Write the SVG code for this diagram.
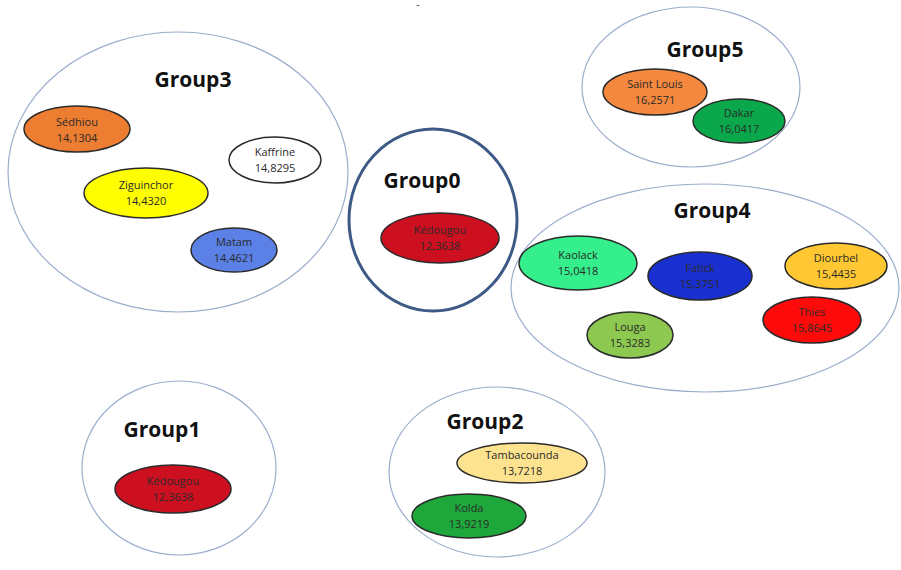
<svg xmlns="http://www.w3.org/2000/svg" width="901" height="570" viewBox="0 0 901 570">
<style>
.grp{fill:none;stroke:#9aaecb;stroke-width:1.2}
.g0{fill:none;stroke:#3d5a86;stroke-width:3}
.gl{font-family:"Open Sans","Liberation Sans",sans-serif;font-weight:bold;font-size:21px;fill:#111;text-anchor:middle}
.nd{stroke:#2a2a2a;stroke-width:1.5}
.nt{font-family:"Open Sans","Liberation Sans",sans-serif;font-size:11px;fill:#2a2a2a;text-anchor:middle}
</style>
<rect width="901" height="570" fill="#fff"/>
<text x="418" y="8" font-family="Liberation Sans,sans-serif" font-size="10" fill="#444" text-anchor="middle">-</text>
<g id="group3">
<ellipse class="grp" cx="178" cy="172" rx="170" ry="140"/>
<text class="gl" x="193" y="87">Group3</text>
</g>
<g id="sedhiou"><ellipse class="nd" cx="77" cy="129" rx="53" ry="23" fill="#ed7d31"/><text class="nt" x="77" y="126">Sédhiou</text><text class="nt" x="77" y="142">14,1304</text></g>
<g id="kaffrine"><ellipse class="nd" cx="275" cy="160" rx="46" ry="23" fill="#fff"/><text class="nt" x="275" y="156">Kaffrine</text><text class="nt" x="275" y="172">14,8295</text></g>
<g id="ziguinchor"><ellipse class="nd" cx="146" cy="193" rx="62" ry="25" fill="#ffff00"/><text class="nt" x="146" y="189">Ziguinchor</text><text class="nt" x="146" y="205">14,4320</text></g>
<g id="matam"><ellipse class="nd" cx="234" cy="250" rx="43" ry="22" fill="#5b80e6"/><text class="nt" x="234" y="246">Matam</text><text class="nt" x="234" y="262">14,4621</text></g>

<g id="group0">
<ellipse class="g0" cx="433" cy="220" rx="84" ry="91"/>
<text class="gl" x="422" y="188">Group0</text>
</g>
<g id="kedougou0"><ellipse class="nd" cx="440" cy="238" rx="59" ry="25" fill="#cc1020"/><text class="nt" x="440" y="234" fill="#7a0008">Kédougou</text><text class="nt" x="440" y="250" fill="#7a0008">12,3638</text></g>

<g id="group5">
<ellipse class="grp" cx="691" cy="87" rx="109" ry="80"/>
<text class="gl" x="705" y="57">Group5</text>
</g>
<g id="saintlouis"><ellipse class="nd" cx="655" cy="92" rx="52" ry="23" fill="#f4883e"/><text class="nt" x="655" y="88">Saint Louis</text><text class="nt" x="655" y="104">16,2571</text></g>
<g id="dakar"><ellipse class="nd" cx="739" cy="121" rx="46" ry="22" fill="#0aa84a"/><text class="nt" x="739" y="117">Dakar</text><text class="nt" x="739" y="133">16,0417</text></g>

<g id="group4">
<ellipse class="grp" cx="705" cy="288" rx="194" ry="104"/>
<text class="gl" x="712" y="218">Group4</text>
</g>
<g id="kaolack"><ellipse class="nd" cx="578" cy="263" rx="59" ry="27" fill="#34ef8c"/><text class="nt" x="578" y="259">Kaolack</text><text class="nt" x="578" y="275">15,0418</text></g>
<g id="fatick"><ellipse class="nd" cx="700" cy="276" rx="52" ry="24" fill="#1a2fd0"/><text class="nt" x="700" y="272" fill="#0c1a78">Fatick</text><text class="nt" x="700" y="288" fill="#0c1a78">15,3751</text></g>
<g id="diourbel"><ellipse class="nd" cx="836" cy="266" rx="51" ry="23" fill="#ffc833"/><text class="nt" x="836" y="262">Diourbel</text><text class="nt" x="836" y="278">15,4435</text></g>
<g id="thies"><ellipse class="nd" cx="812" cy="320" rx="49" ry="23" fill="#ff0a0a"/><text class="nt" x="812" y="316" fill="#8a0000">Thies</text><text class="nt" x="812" y="332" fill="#8a0000">15,8645</text></g>
<g id="louga"><ellipse class="nd" cx="630" cy="335" rx="43" ry="23" fill="#8dc850"/><text class="nt" x="630" y="331">Louga</text><text class="nt" x="630" y="347">15,3283</text></g>

<g id="group1">
<ellipse class="grp" cx="179" cy="468" rx="97" ry="87"/>
<text class="gl" x="162" y="437">Group1</text>
</g>
<g id="kedougou1"><ellipse class="nd" cx="173" cy="489" rx="58" ry="24" fill="#cc1020"/><text class="nt" x="173" y="485" fill="#7a0008">Kédougou</text><text class="nt" x="173" y="501" fill="#7a0008">12,3638</text></g>

<g id="group2">
<ellipse class="grp" cx="497" cy="472" rx="108" ry="85"/>
<text class="gl" x="485" y="429">Group2</text>
</g>
<g id="tambacounda"><ellipse class="nd" cx="522" cy="463" rx="65" ry="20" fill="#fde38f"/><text class="nt" x="522" y="459">Tambacounda</text><text class="nt" x="522" y="475">13,7218</text></g>
<g id="kolda"><ellipse class="nd" cx="469" cy="516" rx="57" ry="22" fill="#1ea83c"/><text class="nt" x="469" y="512">Kolda</text><text class="nt" x="469" y="528">13,9219</text></g>
<g id="connectors"></g>
</svg>
